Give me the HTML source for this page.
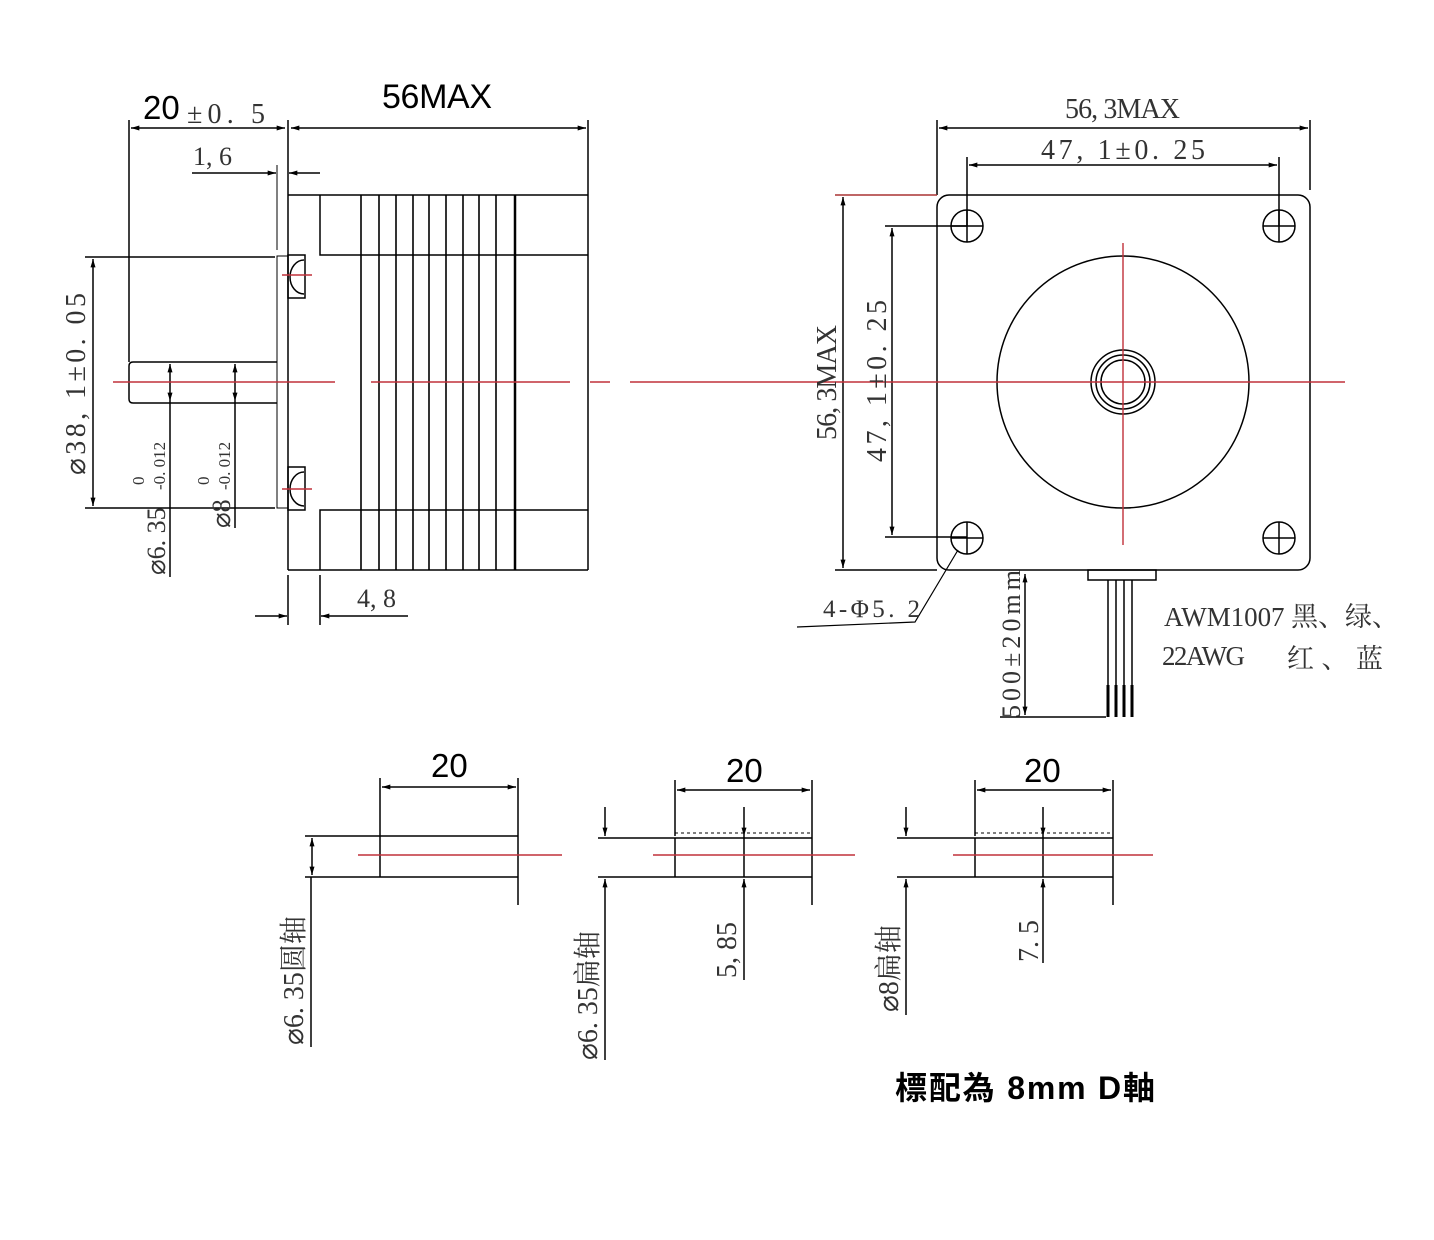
<!DOCTYPE html>
<html><head><meta charset="utf-8"><style>
html,body{margin:0;padding:0;background:#fff;}
svg{display:block}
.s{font-family:"Liberation Serif","Noto Serif CJK SC",serif;fill:#333}
.a{font-family:"Liberation Sans","Noto Sans CJK SC",sans-serif;fill:#000}
</style></head><body>
<svg width="1434" height="1240" viewBox="0 0 1434 1240" xmlns="http://www.w3.org/2000/svg">
<defs>
<marker id="ar" viewBox="0 0 10 6" refX="10" refY="3" markerWidth="12" markerHeight="5" orient="auto-start-reverse" markerUnits="userSpaceOnUse"><path d="M0,0 L10,3 L0,6 z" fill="#000"/></marker>
</defs>
<g stroke="#000" stroke-width="1.5" fill="none">
<line x1="129" y1="120" x2="129" y2="362"/>
<line x1="288" y1="120" x2="288" y2="570"/>
<line x1="588" y1="120" x2="588" y2="195"/>
<line x1="131" y1="128" x2="285" y2="128" marker-start="url(#ar)" marker-end="url(#ar)"/>
<line x1="291" y1="128" x2="586" y2="128" marker-start="url(#ar)" marker-end="url(#ar)"/>
<line x1="192" y1="173" x2="276" y2="173" marker-end="url(#ar)"/>
<line x1="320" y1="173" x2="289" y2="173" marker-end="url(#ar)"/>
<line x1="277" y1="165" x2="277" y2="250" stroke-width="1"/>
<line x1="288" y1="195" x2="588" y2="195"/>
<line x1="288" y1="570" x2="588" y2="570"/>
<line x1="588" y1="195" x2="588" y2="570"/>
<polyline points="320,195 320,255 588,255"/>
<polyline points="320,570 320,510 588,510"/>
<g stroke-width="1.6">
<line x1="361" y1="195" x2="361" y2="570"/><line x1="379" y1="195" x2="379" y2="570"/>
<line x1="396" y1="195" x2="396" y2="570"/><line x1="413" y1="195" x2="413" y2="570"/>
<line x1="429" y1="195" x2="429" y2="570"/><line x1="446" y1="195" x2="446" y2="570"/>
<line x1="463" y1="195" x2="463" y2="570"/><line x1="479" y1="195" x2="479" y2="570"/>
<line x1="496" y1="195" x2="496" y2="570"/><line x1="515" y1="195" x2="515" y2="570" stroke-width="2.5"/>
</g>
<rect x="277" y="256" width="11" height="252" stroke-width="1"/>
<rect x="288" y="255" width="17" height="43"/>
<path d="M304,260 A14,17 0 0 0 304,294"/>
<rect x="288" y="467" width="17" height="43"/>
<path d="M304,472 A14,17 0 0 0 304,506"/>
<path d="M277,362 L133,362 Q129,362 129,366 L129,399 Q129,403 133,403 L277,403"/>
<line x1="85" y1="257" x2="275" y2="257"/>
<line x1="85" y1="508" x2="275" y2="508"/>
<line x1="93" y1="259" x2="93" y2="506" marker-start="url(#ar)" marker-end="url(#ar)"/>
<line x1="170" y1="364" x2="170" y2="401" marker-start="url(#ar)" marker-end="url(#ar)"/>
<line x1="170" y1="401" x2="170" y2="577"/>
<line x1="235" y1="364" x2="235" y2="401" marker-start="url(#ar)" marker-end="url(#ar)"/>
<line x1="235" y1="401" x2="235" y2="528"/>
<line x1="288" y1="575" x2="288" y2="625"/>
<line x1="320" y1="575" x2="320" y2="625"/>
<line x1="255" y1="616" x2="287" y2="616" marker-end="url(#ar)"/>
<line x1="408" y1="616" x2="321" y2="616" marker-end="url(#ar)"/>

<rect x="937" y="195" width="373" height="375" rx="12"/>
<line x1="937" y1="120" x2="937" y2="195"/>
<line x1="1310" y1="120" x2="1310" y2="190"/>
<line x1="939" y1="128" x2="1308" y2="128" marker-start="url(#ar)" marker-end="url(#ar)"/>
<line x1="967" y1="157" x2="967" y2="226"/>
<line x1="1279" y1="157" x2="1279" y2="226"/>
<line x1="969" y1="165" x2="1277" y2="165" marker-start="url(#ar)" marker-end="url(#ar)"/>
<line x1="835" y1="195" x2="937" y2="195" stroke="#a33"/>
<line x1="835" y1="570" x2="937" y2="570"/>
<line x1="843" y1="197" x2="843" y2="568" marker-start="url(#ar)" marker-end="url(#ar)"/>
<line x1="885" y1="226" x2="967" y2="226"/>
<line x1="885" y1="537" x2="967" y2="537"/>
<line x1="892" y1="228" x2="892" y2="535" marker-start="url(#ar)" marker-end="url(#ar)"/>
<g>
<circle cx="967" cy="226" r="16"/><line x1="951" y1="226" x2="983" y2="226"/><line x1="967" y1="210" x2="967" y2="242"/>
<circle cx="1279" cy="226" r="16"/><line x1="1263" y1="226" x2="1295" y2="226"/><line x1="1279" y1="210" x2="1279" y2="242"/>
<circle cx="967" cy="538" r="16"/><line x1="951" y1="538" x2="983" y2="538"/><line x1="967" y1="522" x2="967" y2="554"/>
<circle cx="1279" cy="538" r="16"/><line x1="1263" y1="538" x2="1295" y2="538"/><line x1="1279" y1="522" x2="1279" y2="554"/>
</g>
<circle cx="1123" cy="382" r="126"/>
<circle cx="1123" cy="382" r="32"/>
<circle cx="1123" cy="382" r="27"/>
<circle cx="1123" cy="382" r="22"/>
<polyline points="958,550 915,622 797,627" stroke-width="1.2"/>
<rect x="1088" y="570" width="68" height="10"/>
<line x1="1108" y1="580" x2="1108" y2="717"/><line x1="1116" y1="580" x2="1116" y2="717"/>
<line x1="1124" y1="580" x2="1124" y2="717"/><line x1="1132" y1="580" x2="1132" y2="717"/>
<line x1="1108" y1="685" x2="1108" y2="717" stroke-width="3"/><line x1="1116" y1="685" x2="1116" y2="717" stroke-width="3"/>
<line x1="1124" y1="685" x2="1124" y2="717" stroke-width="3"/><line x1="1132" y1="685" x2="1132" y2="717" stroke-width="3"/>
<line x1="1025" y1="574" x2="1025" y2="715" marker-start="url(#ar)" marker-end="url(#ar)"/>
<line x1="1000" y1="717" x2="1106" y2="717"/>

<line x1="380" y1="778" x2="380" y2="836"/><line x1="518" y1="778" x2="518" y2="905"/>
<line x1="382" y1="787" x2="516" y2="787" marker-start="url(#ar)" marker-end="url(#ar)"/>
<line x1="305" y1="836" x2="518" y2="836"/><line x1="305" y1="877" x2="518" y2="877"/>
<line x1="380" y1="836" x2="380" y2="877"/>
<line x1="312" y1="838" x2="312" y2="875" marker-start="url(#ar)" marker-end="url(#ar)"/>
<line x1="311" y1="877" x2="311" y2="1047"/>

<line x1="675" y1="780" x2="675" y2="836"/><line x1="812" y1="780" x2="812" y2="905"/>
<line x1="677" y1="790" x2="810" y2="790" marker-start="url(#ar)" marker-end="url(#ar)"/>
<line x1="598" y1="838" x2="812" y2="838"/><line x1="598" y1="877" x2="812" y2="877"/>
<line x1="675" y1="833" x2="812" y2="833" stroke-dasharray="3,3" stroke-width="1"/>
<line x1="675" y1="838" x2="675" y2="877"/>
<line x1="605" y1="807" x2="605" y2="836" marker-end="url(#ar)"/>
<line x1="605" y1="1060" x2="605" y2="879" marker-end="url(#ar)"/>
<line x1="744" y1="807" x2="744" y2="836" marker-end="url(#ar)"/>
<line x1="744" y1="980" x2="744" y2="879" marker-end="url(#ar)"/>
<line x1="744" y1="836" x2="744" y2="877"/>

<line x1="975" y1="780" x2="975" y2="836"/><line x1="1113" y1="780" x2="1113" y2="905"/>
<line x1="977" y1="790" x2="1111" y2="790" marker-start="url(#ar)" marker-end="url(#ar)"/>
<line x1="897" y1="838" x2="1113" y2="838"/><line x1="897" y1="877" x2="1113" y2="877"/>
<line x1="975" y1="833" x2="1113" y2="833" stroke-dasharray="3,3" stroke-width="1"/>
<line x1="975" y1="838" x2="975" y2="877"/>
<line x1="906" y1="807" x2="906" y2="836" marker-end="url(#ar)"/>
<line x1="906" y1="1015" x2="906" y2="879" marker-end="url(#ar)"/>
<line x1="1043" y1="807" x2="1043" y2="836" marker-end="url(#ar)"/>
<line x1="1043" y1="963" x2="1043" y2="879" marker-end="url(#ar)"/>
<line x1="1043" y1="836" x2="1043" y2="877"/>
</g>
<g stroke="#c0303a" stroke-width="1.4" fill="none">
<line x1="113" y1="382" x2="335" y2="382"/>
<line x1="371" y1="382" x2="570" y2="382"/>
<line x1="590" y1="382" x2="610" y2="382"/>
<line x1="630" y1="382" x2="1345" y2="382"/>
<line x1="1123" y1="243" x2="1123" y2="545"/>
<line x1="282" y1="275" x2="312" y2="275"/>
<line x1="282" y1="489" x2="312" y2="489"/>
<line x1="358" y1="855" x2="562" y2="855"/>
<line x1="653" y1="855" x2="855" y2="855"/>
<line x1="953" y1="855" x2="1153" y2="855"/>
</g>
<text x="143" y="119" class="a" font-size="33">20</text>
<text x="187" y="123" class="s" font-size="28" textLength="78">±0. 5</text>
<text x="382" y="108" class="a" font-size="34" textLength="110">56MAX</text>
<text x="193" y="165" class="s" font-size="26">1, 6</text>
<text x="357" y="607" class="s" font-size="26">4, 8</text>
<text transform="translate(85,475) rotate(-90)" class="s" font-size="28" textLength="182">⌀38, 1±0. 05</text>
<text transform="translate(165,575) rotate(-90)" class="s" font-size="26">⌀6. 35</text>
<text transform="translate(144,485) rotate(-90)" class="s" font-size="17">0</text>
<text transform="translate(165,490) rotate(-90)" class="s" font-size="17">-0. 012</text>
<text transform="translate(230,528) rotate(-90)" class="s" font-size="26">⌀8</text>
<text transform="translate(209,485) rotate(-90)" class="s" font-size="17">0</text>
<text transform="translate(230,490) rotate(-90)" class="s" font-size="17">-0. 012</text>
<text x="1065" y="118" class="s" font-size="28" textLength="115">56, 3MAX</text>
<text x="1041" y="159" class="s" font-size="28" textLength="164">47, 1±0. 25</text>
<text transform="translate(836,440) rotate(-90)" class="s" font-size="28" textLength="115">56, 3MAX</text>
<text transform="translate(886,462) rotate(-90)" class="s" font-size="28" textLength="162">47, 1±0. 25</text>
<text x="823" y="617" class="s" font-size="25" textLength="97">4-Φ5. 2</text>
<text transform="translate(1020,718) rotate(-90)" class="s" font-size="26" textLength="148">500±20mm</text>
<text x="1164" y="626" class="s" font-size="27" textLength="235">AWM1007 黑、绿、</text>
<text x="1162" y="665" class="s" font-size="27" textLength="83">22AWG</text>
<text x="1287" y="668" class="s" font-size="27" textLength="96">红、蓝</text>
<text x="431" y="777" class="a" font-size="33">20</text>
<text x="726" y="782" class="a" font-size="33">20</text>
<text x="1024" y="782" class="a" font-size="33">20</text>
<text transform="translate(303,1045) rotate(-90)" class="s" font-size="28">⌀6. 35圆轴</text>
<text transform="translate(597,1060) rotate(-90)" class="s" font-size="28">⌀6. 35扁轴</text>
<text transform="translate(898,1012) rotate(-90)" class="s" font-size="28">⌀8扁轴</text>
<text transform="translate(736,978) rotate(-90)" class="s" font-size="28">5, 85</text>
<text transform="translate(1038,962) rotate(-90)" class="s" font-size="28">7. 5</text>
<text x="895" y="1099" class="a" font-size="32" font-weight="bold" textLength="260" font-family="'Liberation Sans','Noto Sans CJK TC',sans-serif">標配為 8mm D軸</text>
</svg>
</body></html>
